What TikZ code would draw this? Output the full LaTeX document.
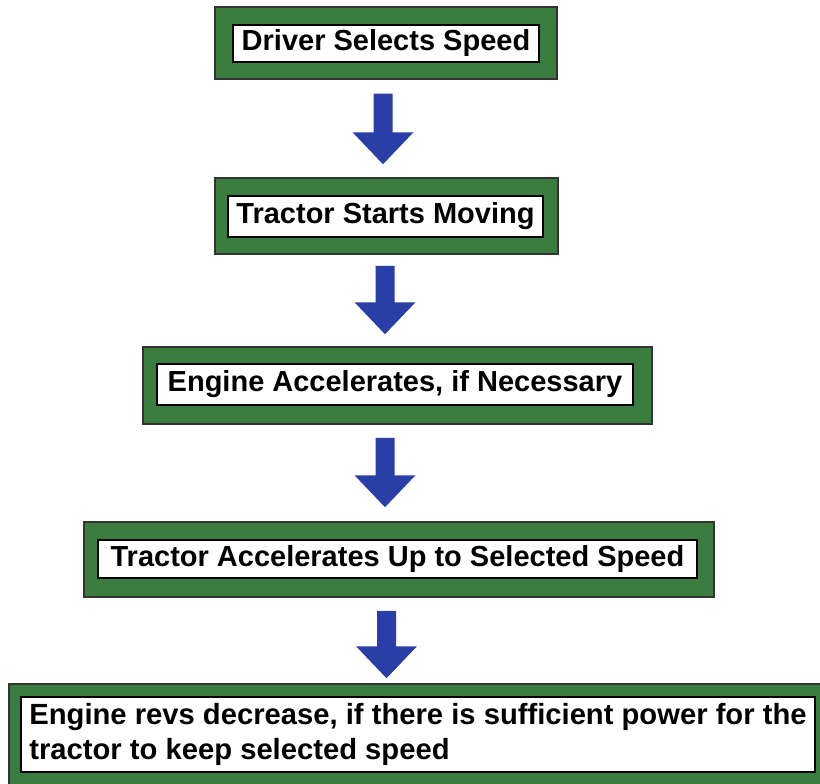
\documentclass[tikz,border=0pt]{standalone}
\usepackage{fontspec}
\setmainfont{Liberation Sans}
\usetikzlibrary{calc}
\definecolor{boxgreen}{RGB}{58,125,62}
\definecolor{arrowblue}{RGB}{42,62,168}
\tikzset{
  outerbox/.style={draw=black!80, line width=1.5pt, fill=boxgreen, inner sep=0pt},
  innerbox/.style={draw=black, line width=1.8pt, fill=white, inner sep=0pt,
    font=\fontsize{29}{32}\selectfont\bfseries},
  blockarrow/.style={fill=arrowblue, draw=none}
}
\newcommand{\fatarrow}[2]{%
  \fill[blockarrow] ($(#1)+(-9.5,0)$) -- ($(#2)+(-9.5,-32)$) -- ($(#2)+(-30.5,-32)$)
    -- (#2) -- ($(#2)+(30.5,-32)$) -- ($(#2)+(9.5,-32)$) -- ($(#1)+(9.5,0)$) -- cycle;}
\begin{document}
\begin{tikzpicture}[x=1pt,y=-1pt]
  \useasboundingbox (0,0) rectangle (820,784);
  \clip (0,0) rectangle (820,784);
  % box 1
  \node[outerbox, minimum width=342pt, minimum height=72pt] (o1) at (386,43) {};
  \node[innerbox, minimum width=306pt, minimum height=37pt] (b1) at (386,43.5) {Driver Selects Speed};
  % box 2
  \node[outerbox, minimum width=343pt, minimum height=76pt] (o2) at (386.5,216) {};
  \node[innerbox, minimum width=315pt, minimum height=41pt] (b2) at (385.5,216.5) {Tractor Starts Moving};
  % box 3
  \node[outerbox, minimum width=509pt, minimum height=77pt] (o3) at (397.5,385.5) {};
  \node[innerbox, minimum width=476pt, minimum height=41pt] (b3) at (395,384.5) {Engine Accelerates, if Necessary};
  % box 4
  \node[outerbox, minimum width=630pt, minimum height=75pt] (o4) at (399,559.5) {};
  \node[innerbox, minimum width=599pt, minimum height=38pt] (b4) at (397.5,559) {Tractor Accelerates Up to Selected Speed};
  % box 5
  \node[outerbox, minimum width=822pt, minimum height=116pt] (o5) at (420,742) {};
  \node[innerbox, align=left, minimum width=794pt, minimum height=75pt,
        font=\fontsize{29.2}{35}\selectfont\bfseries] (b5) at (418,734.5)
    {Engine revs decrease, if there is sufficient power for the\\tractor to keep selected speed};
  % arrows
  \coordinate (s1) at ($(o1.south)+(-3,14)$);
  \coordinate (e1) at ($(s1|-o2.north)+(0,-13)$);
  \coordinate (s2) at ($(o2.south)+(-1.5,11)$);
  \coordinate (e2) at ($(s2|-o3.north)+(0,-12)$);
  \coordinate (s3) at ($(o3.south)+(-12.5,13)$);
  \coordinate (e3) at ($(s3|-o4.north)+(0,-14)$);
  \coordinate (s4) at ($(o4.south)+(-12.5,13)$);
  \coordinate (e4) at ($(s4|-o5.north)+(0,-5)$);
  \fatarrow{s1}{e1}
  \fatarrow{s2}{e2}
  \fatarrow{s3}{e3}
  \fatarrow{s4}{e4}
\end{tikzpicture}
\end{document}
